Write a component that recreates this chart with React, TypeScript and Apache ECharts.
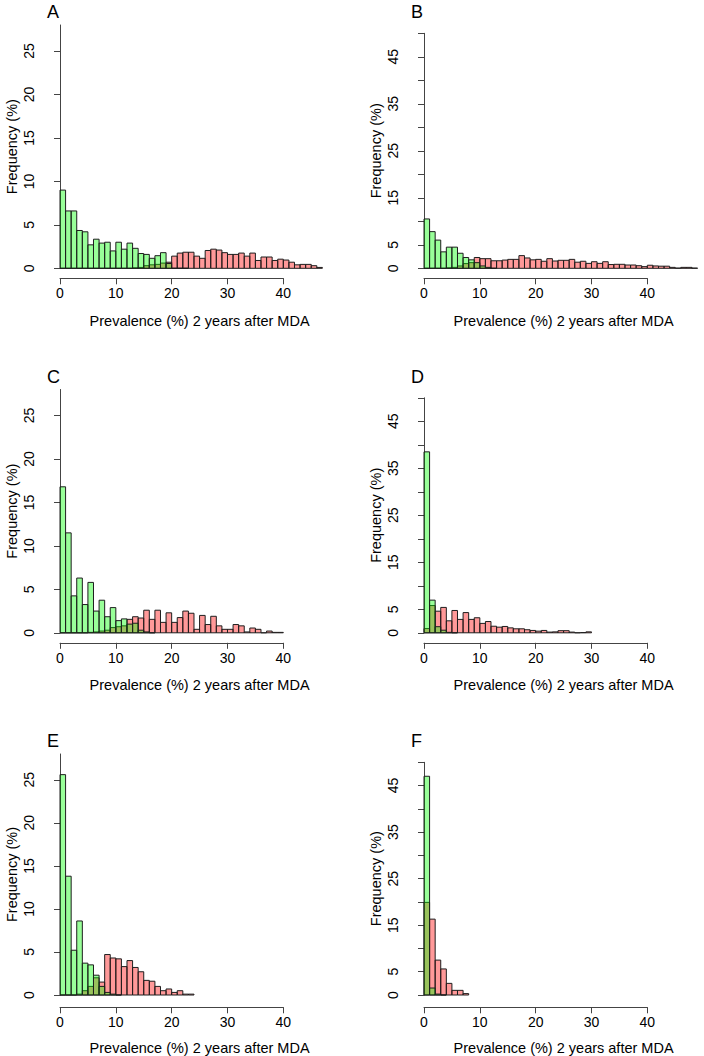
import React, { useEffect, useRef } from "react";
import * as echarts from "echarts";

// ---------- data (frequency %, one value per 1%-wide prevalence bin starting at 0) ----------
const panelLetters = ["A", "B", "C", "D", "E", "F"];

const greenA = [9.0, 6.6, 6.6, 4.35, 4.2, 2.7, 3.35, 2.9, 3.0, 2.0, 3.0, 2.2, 2.9, 2.3, 1.7, 1.6, 1.15, 1.45, 1.8, 0.55, 0, 0, 0];
const redA = [0, 0, 0, 0, 0, 0, 0, 0, 0, 0, 0, 0, 0, 0.05, 0.1, 0.3, 0.4, 0.45, 0.6, 0.7,
  1.4, 1.75, 1.85, 1.85, 1.4, 1.15, 2.05, 2.2, 2.1, 1.8, 1.6, 1.6, 1.75, 1.4, 1.75, 0.9, 1.3, 1.3, 0.9, 1.05,
  0.95, 0.7, 0.4, 0.45, 0.45, 0.3, 0.1];

const greenB = [10.5, 7.8, 6.0, 3.5, 4.5, 4.5, 3.2, 2.3, 1.8, 1.2, 0.5, 0.2, 0];
const redB = [0, 0, 0, 0, 0.1, 0.2, 0.5, 1.0, 1.2, 2.3, 2.05, 2.05, 1.6, 1.6, 1.75, 1.9, 1.9, 2.7, 2.2, 1.8,
  1.9, 1.5, 2.05, 1.55, 1.7, 1.7, 1.9, 1.3, 1.5, 1.05, 1.4, 1.05, 1.4, 0.8, 0.85, 0.85, 0.7, 0.7, 0.55, 0.35,
  0.65, 0.5, 0.45, 0.45, 0.2, 0.05, 0.2, 0.2, 0.05];

const greenC = [16.8, 11.5, 4.25, 6.3, 3.25, 5.8, 2.5, 3.75, 1.85, 2.9, 1.4, 1.6, 1.0, 1.1, 0.3, 0.1, 0];
const redC = [0, 0, 0, 0, 0, 0.05, 0.1, 0.2, 0.3, 0.6, 0.7, 0.8, 1.55, 1.85, 1.7, 2.6, 1.55, 2.6, 1.2, 2.3,
  1.2, 1.75, 2.5, 2.25, 0.4, 2.0, 0.95, 1.9, 0.8, 0.4, 0.4, 0.95, 0.8, 0.1, 0.55, 0.4, 0, 0.2, 0.05, 0.05];

const greenD = [38.5, 6.95, 1.3, 0.55, 0.1, 0];
const redD = [0.9, 5.8, 4.6, 5.4, 2.55, 4.75, 2.85, 4.3, 2.85, 3.2, 2.0, 2.4, 1.4, 1.2, 1.35, 1.05, 0.85, 0.85,
  0.65, 0.5, 0.35, 0.5, 0.15, 0.2, 0.45, 0.45, 0.15, 0, 0.05, 0.2];

const greenE = [25.6, 13.8, 5.2, 8.6, 3.7, 3.5, 2.3, 1.0, 0.3, 0.1, 0];
const redE = [0, 0, 0, 0.1, 0.5, 1.0, 2.0, 1.5, 4.7, 4.3, 4.2, 3.3, 4.0, 3.2, 2.7, 1.7, 1.6, 1.0, 0.5, 0.7,
  0.3, 0.5, 0.1, 0.1];

const greenF = [47, 1.5, 0.2, 0];
const redF = [19.9, 16.3, 7.5, 5.6, 2.5, 1.0, 1.0, 0.3];

const greens = [greenA, greenB, greenC, greenD, greenE, greenF];
const reds = [redA, redB, redC, redD, redE, redF];

const xTicks = [0, 10, 20, 30, 40];
const yTicksLeft = [0, 5, 10, 15, 20, 25];
const yLabelsLeft = [0, 5, 10, 15, 20, 25];
const yTicksRight = [0, 5, 10, 15, 20, 25, 30, 35, 40, 45, 50];
const yLabelsRight = [0, 5, 15, 25, 35, 45];

const xTitle = "Prevalence (%) 2 years after MDA";
const yTitle = "Frequency (%)";

// ---------- layout ----------
const FONT = "'Liberation Sans', Arial, Helvetica, sans-serif";
const PX_PER_X = 5.583;
const X_DATA_MAX = 50;
const X_AXIS_MAX = 40;
const COL_X0 = [60, 424];
const ROW_BASE = [268.3, 632.8, 997.3];

const GREEN_FILL = "rgba(0,255,0,0.4)";
const RED_FILL = "rgba(255,0,0,0.4)";
const EDGE = "#1e1e1e";
const AXIS_COLOR = "#444";

function histSeries(values: number[], fill: string, axisIndex: number, name: string) {
  return {
    type: "custom",
    name,
    xAxisIndex: axisIndex,
    yAxisIndex: axisIndex,
    clip: false,
    data: values.map((v, i) => [i, v]),
    renderItem: (_params: any, api: any) => {
      const x = api.value(0);
      const v = api.value(1);
      const p0 = api.coord([x, 0]);
      const p1 = api.coord([x + 1, v]);
      return {
        type: "rect",
        shape: { x: p0[0], y: p1[1], width: p1[0] - p0[0], height: p0[1] - p1[1] },
        style: { fill, stroke: EDGE, lineWidth: 1 },
      };
    },
  };
}

function buildOption() {
  const grid: any[] = [];
  const xAxis: any[] = [];
  const yAxis: any[] = [];
  const series: any[] = [];
  const title: any[] = [];

  for (let p = 0; p < 6; p++) {
    const col = p % 2;
    const row = Math.floor(p / 2);
    const x0 = COL_X0[col];
    const base = ROW_BASE[row];
    const left = col === 0;
    const ymax = left ? 28 : 50;
    const ppu = left ? 8.69 : 4.7;
    const h = ymax * ppu;

    // data grid
    const di = grid.length;
    grid.push({ left: x0, top: base - h, width: X_DATA_MAX * PX_PER_X, height: h, containLabel: false });
    xAxis.push({
      gridIndex: di,
      type: "value",
      min: 0,
      max: X_DATA_MAX,
      axisLine: { show: false },
      axisTick: { show: false },
      axisLabel: { show: false },
      splitLine: { show: false },
      name: xTitle,
      nameLocation: "middle",
      nameGap: 45,
      nameTextStyle: { fontSize: 14.5, color: "#000", fontFamily: FONT },
    });
    yAxis.push({
      gridIndex: di,
      type: "value",
      min: 0,
      max: ymax,
      offset: 11,
      axisLine: { show: true, lineStyle: { color: AXIS_COLOR, width: 1 } },
      axisTick: {
        show: true,
        length: 6,
        lineStyle: { color: AXIS_COLOR },
        customValues: left ? yTicksLeft : yTicksRight,
      },
      axisLabel: {
        show: true,
        rotate: 90,
        margin: 13,
        fontSize: 14,
        color: "#000",
        fontFamily: FONT,
        customValues: left ? yLabelsLeft : yLabelsRight,
      },
      splitLine: { show: false },
      name: yTitle,
      nameLocation: "middle",
      nameGap: 30,
      nameTextStyle: { fontSize: 14.5, color: "#000", fontFamily: FONT },
    });
    series.push(histSeries(reds[p], RED_FILL, di, "red"));
    series.push(histSeries(greens[p], GREEN_FILL, di, "green"));

    // axis-only grid for the x axis (drawn from 0 to 40, R style)
    const ai = grid.length;
    grid.push({ left: x0, top: base, width: X_AXIS_MAX * PX_PER_X, height: 10 });
    xAxis.push({
      gridIndex: ai,
      type: "value",
      min: 0,
      max: X_AXIS_MAX,
      interval: 10,
      axisLine: { show: true, lineStyle: { color: AXIS_COLOR, width: 1 } },
      axisTick: { show: true, length: 6, lineStyle: { color: AXIS_COLOR }, customValues: xTicks },
      axisLabel: { show: true, margin: 8, fontSize: 14, color: "#000", fontFamily: FONT, customValues: xTicks },
      splitLine: { show: false },
    });
    yAxis.push({ gridIndex: ai, type: "value", min: 0, max: 1, show: false });

    title.push({
      text: panelLetters[p],
      left: x0 - 13,
      top: base - 268.3 + 3,
      padding: 0,
      textStyle: { fontSize: 18, fontWeight: "normal", color: "#000", fontFamily: FONT },
    });
  }

  return { animation: false, backgroundColor: "#fff", title, grid, xAxis, yAxis, series };
}

export default function App() {
  const ref = useRef<HTMLDivElement>(null);
  useEffect(() => {
    if (!ref.current) return;
    const chart = echarts.init(ref.current, undefined, { renderer: "svg" });
    chart.setOption(buildOption() as any);
    return () => chart.dispose();
  }, []);
  return (
    <div
      ref={ref}
      style={{ position: "fixed", left: 0, top: 0, width: 704, height: 1056, background: "#fff" }}
    />
  );
}
